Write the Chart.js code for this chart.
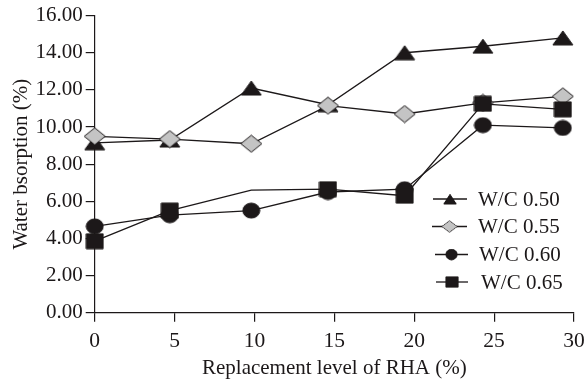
<!DOCTYPE html>
<html>
<head>
<meta charset="utf-8">
<script src="https://cdn.jsdelivr.net/npm/chart.js@4.4.1/dist/chart.umd.min.js"></script>
<style>
  html, body { margin: 0; padding: 0; background: #fff; }
</style>
</head>
<body>
<canvas id="absorptionChart" width="584" height="383"></canvas>
<script>
// RHA replacement level (%) where each mix was tested
const rhaLevels = [0, 4.7, 9.8, 14.6, 19.4, 24.3, 29.3];

const seriesLabels = ['W/C 0.50', 'W/C 0.55', 'W/C 0.60', 'W/C 0.65'];

// water absorption (%) per mix
const wc050 = [9.15, 9.3, 12.1, 11.2, 14.0, 14.35, 14.8];
const wc055 = [9.5, 9.35, 9.1, 11.15, 10.7, 11.3, 11.65];
const wc060 = [4.65, 5.25, 5.5, 6.5, 6.65, 10.1, 9.95];
const wc065 = [3.85, 5.5, 6.6, 6.65, 6.3, 11.25, 10.95];

const xTicks = [0, 5, 10, 15, 20, 25, 30];
const yTicks = [0, 2, 4, 6, 8, 10, 12, 14, 16];

const FONT = 'Liberation Serif, Times New Roman, serif';
const INK = '#1c1819';

// little canvases used as point styles (markers are slightly wider than tall)
function marker(w, h, fill, shape) {
  const c = document.createElement('canvas');
  c.width = w + 2;
  c.height = h + 2;
  const g = c.getContext('2d');
  g.translate(1, 1);
  g.beginPath();
  shape(g, w, h);
  g.closePath();
  g.fillStyle = fill;
  g.fill();
  g.lineWidth = 1;
  g.strokeStyle = INK;
  g.stroke();
  return c;
}

const triangleMark = marker(20, 14, INK, (g, w, h) => {
  g.moveTo(w / 2, 0); g.lineTo(w, h); g.lineTo(0, h);
});
const diamondMark = marker(21, 17, '#c4c4c4', (g, w, h) => {
  g.moveTo(w / 2, 0); g.lineTo(w, h / 2); g.lineTo(w / 2, h); g.lineTo(0, h / 2);
});
const circleMark = marker(17, 15, INK, (g, w, h) => {
  g.ellipse(w / 2, h / 2, w / 2, h / 2, 0, 0, Math.PI * 2);
});
const squareMark = marker(17, 15, INK, (g, w, h) => {
  g.rect(0, 0, w, h);
});

const markers = [triangleMark, diamondMark, circleMark, squareMark];
const series = [wc050, wc055, wc060, wc065];
// square/diamond sit on top where marks overlap
const drawOrder = [3, 1, 2, 0];

const datasets = series.map((vals, i) => ({
  label: seriesLabels[i],
  data: vals.map((v, j) => ({ x: rhaLevels[j], y: v })),
  borderColor: INK,
  borderWidth: 1.3,
  pointStyle: markers[i],
  // the W/C 0.65 line bends at 10% without a marker
  pointRadius: i === 3 ? vals.map((v, j) => (j === 2 ? 0 : 8)) : 8,
  pointHoverRadius: 8,
  tension: 0,
  fill: false,
  clip: false,
  order: drawOrder[i]
}));

// legend drawn inside the plot, lower right
const insideLegend = {
  id: 'insideLegend',
  afterDraw(chart) {
    const ctx = chart.ctx;
    const rows = [199, 226.5, 254.5, 282];
    const lineX = [[433, 467], [432, 467], [435, 468], [436, 468]];
    const textX = [478, 478, 479, 481];
    const sizes = [[14, 11], [17, 13], [13, 12], [14, 12]];
    ctx.save();
    rows.forEach((y, i) => {
      const [x0, x1] = lineX[i];
      ctx.strokeStyle = INK;
      ctx.lineWidth = 1.3;
      ctx.beginPath();
      ctx.moveTo(x0, y);
      ctx.lineTo(x1, y);
      ctx.stroke();
      const [w, h] = sizes[i];
      ctx.drawImage(markers[i], (x0 + x1) / 2 - w / 2, y - h / 2, w, h);
      ctx.fillStyle = INK;
      ctx.font = '21px ' + FONT;
      ctx.textBaseline = 'middle';
      ctx.textAlign = 'left';
      ctx.fillText(seriesLabels[i], textX[i], y + 1);
    });
    ctx.restore();
  }
};

new Chart(document.getElementById('absorptionChart'), {
  type: 'line',
  data: { datasets },
  plugins: [insideLegend],
  options: {
    responsive: false,
    animation: false,
    layout: { padding: { top: 14, right: 10, left: 0, bottom: 0 } },
    plugins: {
      legend: { display: false },
      tooltip: { enabled: false }
    },
    scales: {
      x: {
        type: 'linear',
        min: xTicks[0],
        max: xTicks[xTicks.length - 1],
        afterBuildTicks: s => { s.ticks = xTicks.map(v => ({ value: v })); },
        ticks: { color: INK, font: { family: FONT, size: 21.5 }, padding: 7, maxRotation: 0 },
        grid: { drawOnChartArea: false, tickLength: 9, color: INK, lineWidth: 1.2 },
        border: { color: INK, width: 1.2 },
        title: {
          display: true,
          text: 'Replacement level of RHA (%)',
          color: INK,
          font: { family: FONT, size: 21 },
          padding: { top: 0, bottom: 2 }
        },
        afterFit: s => {
          s.height = 70.3;
          // let the "30" label run into the right margin
          s.paddingLeft = 0;
          s.paddingRight = 0;
        }
      },
      y: {
        min: yTicks[0],
        max: yTicks[yTicks.length - 1],
        afterBuildTicks: s => { s.ticks = yTicks.map(v => ({ value: v })); },
        ticks: {
          color: INK,
          font: { family: FONT, size: 21 },
          padding: 3,
          callback: v => v.toFixed(2)
        },
        grid: { drawOnChartArea: false, tickLength: 9, color: INK, lineWidth: 1.2 },
        border: { color: INK, width: 1.2 },
        title: {
          display: true,
          text: 'Water bsorption (%)',
          color: INK,
          font: { family: FONT, size: 21 },
          padding: { top: 9, bottom: 0 }
        },
        afterFit: s => { s.width = 94.7; }
      }
    }
  }
});
</script>
</body>
</html>
